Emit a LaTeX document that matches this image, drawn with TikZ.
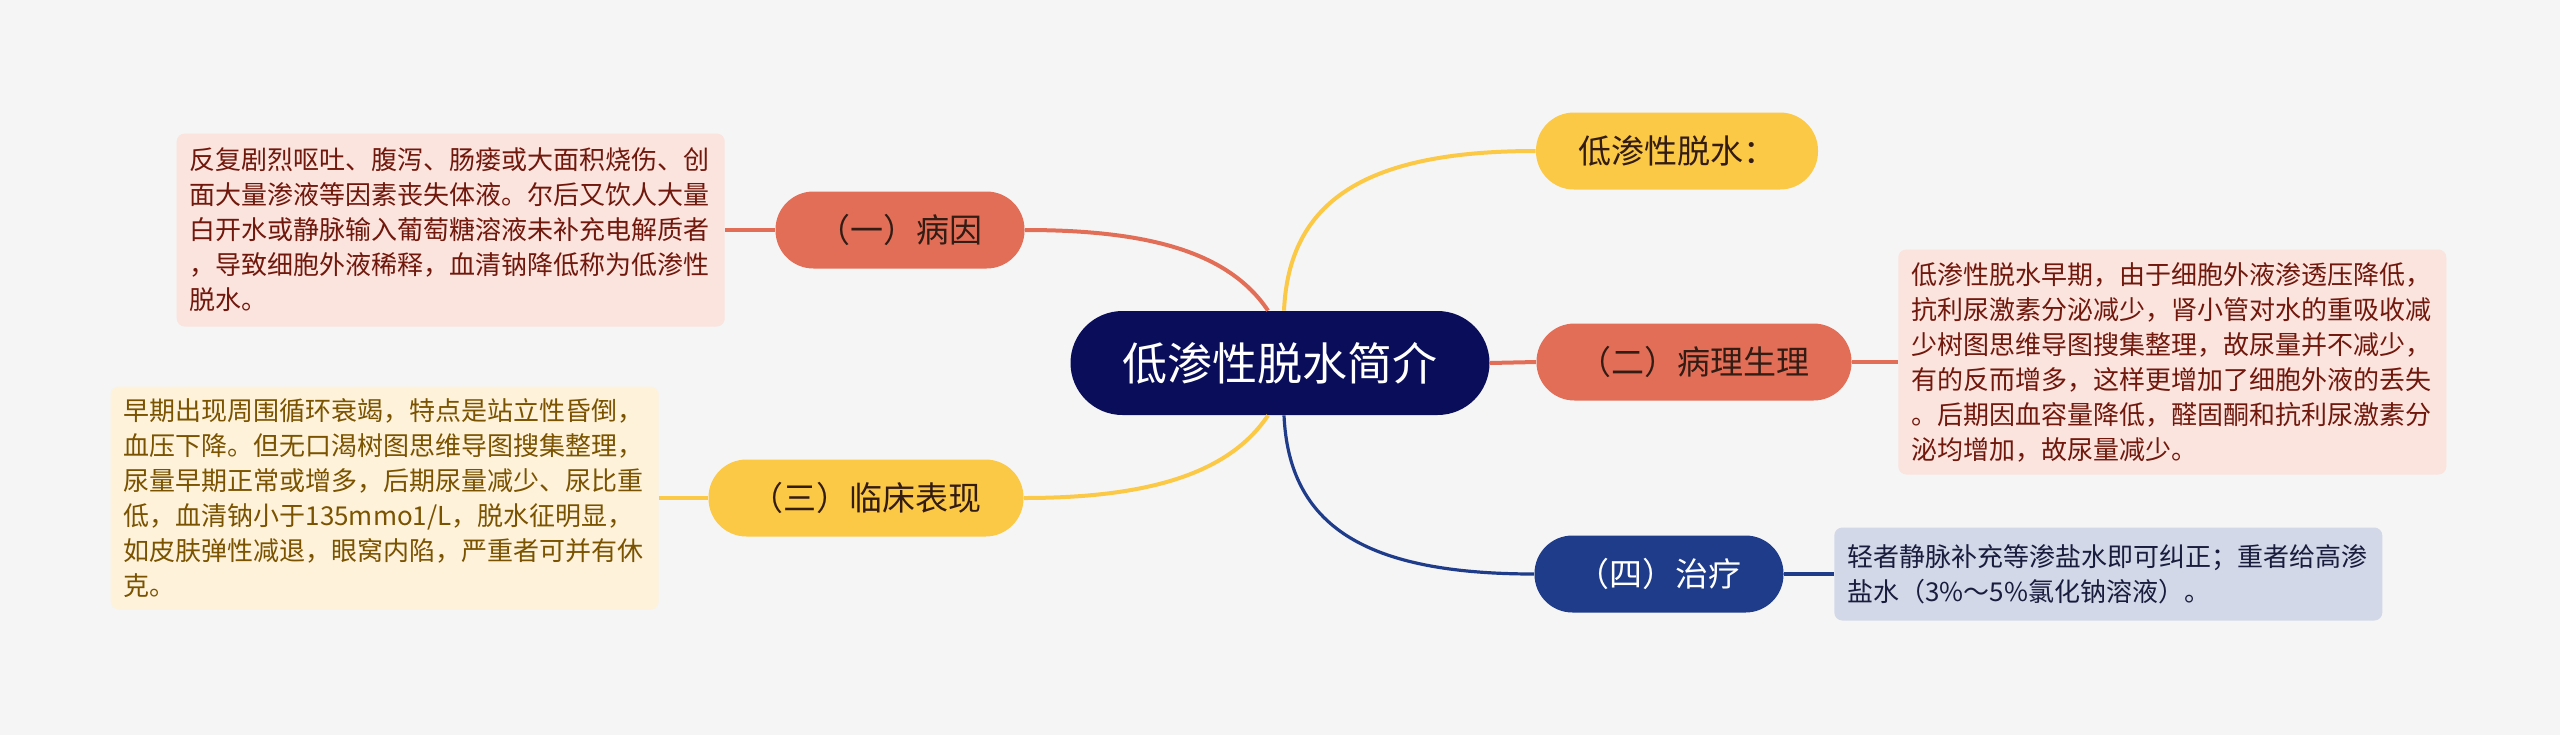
\documentclass[tikz,border=0pt]{standalone}
\usepackage{fontspec}
\setmainfont{Noto Sans CJK SC}
\usepackage{xcolor}
\usepackage{tikz}
\usetikzlibrary{positioning}

\definecolor{bgc}{RGB}{245,245,245}
\definecolor{navy}{RGB}{10,14,90}
\definecolor{coral}{RGB}{227,110,88}
\definecolor{gold}{RGB}{252,201,70}
\definecolor{royal}{RGB}{31,60,138}
\definecolor{pinkbg}{RGB}{251,227,222}
\definecolor{creambg}{RGB}{254,243,218}
\definecolor{bluebg}{RGB}{211,216,232}
\definecolor{redtxt}{RGB}{112,24,12}
\definecolor{browntxt}{RGB}{122,82,0}
\definecolor{navytxt}{RGB}{25,28,60}
\definecolor{darktxt}{RGB}{50,28,20}

\begin{document}
\begin{tikzpicture}[x=0.5pt, y=-0.5pt,
  hub/.style={fill=navy, text=white, rounded corners=26pt, minimum height=52pt, inner xsep=26pt, font=\fontsize{22.5pt}{27pt}\selectfont},
  br/.style={rounded corners=19pt, minimum height=38.5pt, minimum width=122pt, inner xsep=21pt, font=\fontsize{16.5pt}{20pt}\selectfont},
  txt/.style={rounded corners=4pt, text width=261pt, inner xsep=6.5pt, align=left, font=\fontsize{13pt}{17.5pt}\selectfont},
  ln/.style={line width=2pt}
]
\fill[bgc] (0,0) rectangle (2560,735);
\node[hub] (ctr) at (1280,363) {低渗性脱水简介};
\node[br, fill=gold, text=darktxt] (fluid) at (1677,151) {低渗性脱水：};
\node[br, fill=coral, text=darktxt] (cause) at (900,230) {（一）病因};
\node[br, fill=coral, text=darktxt] (patho) at (1694,362) {（二）病理生理};
\node[br, fill=gold, text=darktxt] (clin) at (866,498) {（三）临床表现};
\node[br, fill=royal, text=white] (treat) at (1659,574) {（四）治疗};
\node[txt, fill=pinkbg, text=redtxt, left=25pt of cause, minimum height=96.5pt] (causeTxt) {反复剧烈呕吐、腹泻、肠瘘或大面积烧伤、创\\面大量渗液等因素丧失体液。尔后又饮人大量\\白开水或静脉输入葡萄糖溶液未补充电解质者\\，导致细胞外液稀释，血清钠降低称为低渗性\\脱水。};
\node[txt, fill=pinkbg, text=redtxt, right=23pt of patho, minimum height=112.5pt] (pathoTxt) {低渗性脱水早期，由于细胞外液渗透压降低，\\抗利尿激素分泌减少，肾小管对水的重吸收减\\少树图思维导图搜集整理，故尿量并不减少，\\有的反而增多，这样更增加了细胞外液的丢失\\。后期因血容量降低，醛固酮和抗利尿激素分\\泌均增加，故尿量减少。};
\node[txt, fill=creambg, text=browntxt, left=24.5pt of clin, minimum height=111.5pt] (clinTxt) {早期出现周围循环衰竭，特点是站立性昏倒，\\血压下降。但无口渴树图思维导图搜集整理，\\尿量早期正常或增多，后期尿量减少、尿比重\\低，血清钠小于135mmo1/L，脱水征明显，\\如皮肤弹性减退，眼窝内陷，严重者可并有休\\克。};
\node[txt, fill=bluebg, text=navytxt, right=25pt of treat, minimum height=46.5pt] (treatTxt) {轻者静脉补充等渗盐水即可纠正；重者给高渗\\盐水（3\%～5\%氯化钠溶液）。};
\draw[ln, gold] ([xshift=2pt]ctr.north) .. controls +(5,-110) and +(-170,0) .. (fluid.west);
\draw[ln, coral] ([xshift=-6pt]ctr.north) .. controls +(-40,-60) and +(120,0) .. (cause.east);
\draw[ln, coral] (ctr.east) -- (patho.west);
\draw[ln, gold] ([xshift=-6pt]ctr.south) .. controls +(-40,60) and +(120,0) .. (clin.east);
\draw[ln, royal, line width=1.6pt] ([xshift=2pt]ctr.south) .. controls +(5,110) and +(-170,0) .. (treat.west);
\draw[ln, coral] (cause) -- (causeTxt);
\draw[ln, coral] (patho) -- (pathoTxt);
\draw[ln, gold] (clin) -- (clinTxt);
\draw[ln, royal, line width=1.6pt] (treat) -- (treatTxt);
\end{tikzpicture}
\end{document}
